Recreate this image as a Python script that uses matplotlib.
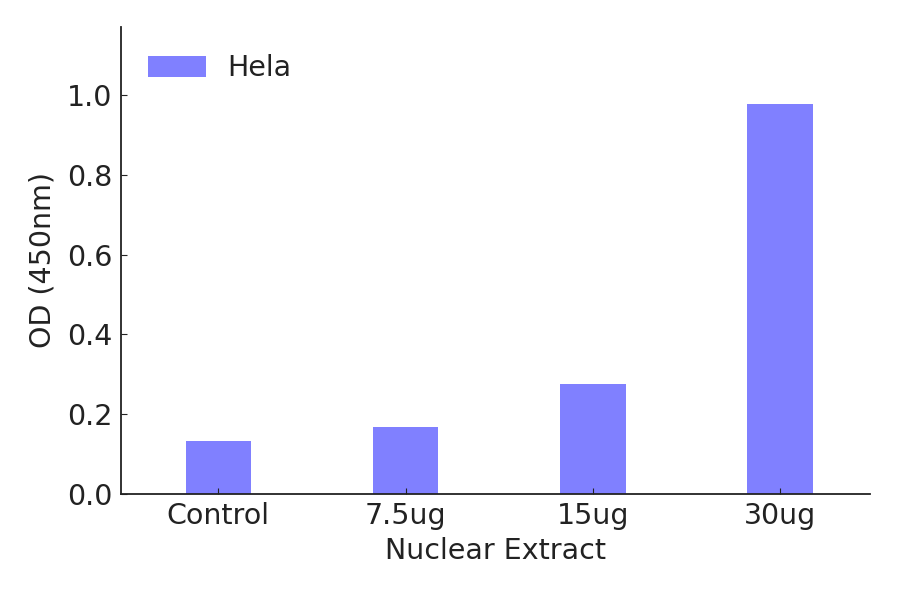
import matplotlib
matplotlib.use('Agg')
import matplotlib.pyplot as plt
import numpy as np

categorias = ['Control', '7.5ug', '15ug', '30ug']
valores_od = [0.133, 0.168, 0.276, 0.977]
serie_nome = 'Hela'

COR_TEXTO = '#222222'

fig = plt.figure(figsize=(9, 5.94), dpi=100)
ax = fig.add_axes([0.1344, 0.1684, 0.8323, 0.7861])

x = np.arange(len(categorias))
ax.bar(x, valores_od, width=0.35, color='#8080ff', label=serie_nome)

ax.set_xlim(-0.52, 3.48)
ax.set_ylim(0, 1.17)
ax.set_xticks(x)
ax.set_xticklabels(categorias)
ax.set_yticks([0.0, 0.2, 0.4, 0.6, 0.8, 1.0])
ax.set_yticklabels(['0.0', '0.2', '0.4', '0.6', '0.8', '1.0'])

for lado in ['top', 'right']:
    ax.spines[lado].set_visible(False)
for lado in ['left', 'bottom']:
    ax.spines[lado].set_linewidth(1.3)
    ax.spines[lado].set_color(COR_TEXTO)

ax.tick_params(direction='in', length=4, width=0.8, labelsize=20.5, pad=6,
               labelcolor=COR_TEXTO, color=COR_TEXTO)
ax.set_xlabel('Nuclear Extract', fontsize=20.5, labelpad=5, color=COR_TEXTO)
ax.set_ylabel('OD (450nm)', fontsize=20.5, labelpad=8, color=COR_TEXTO)

leg = ax.legend(loc='upper left', frameon=False, fontsize=20.5,
                handlelength=2.05, handleheight=0.75, handletextpad=0.75,
                borderaxespad=0.55)
for t in leg.get_texts():
    t.set_color(COR_TEXTO)

fig.savefig('out.png', dpi=100)
